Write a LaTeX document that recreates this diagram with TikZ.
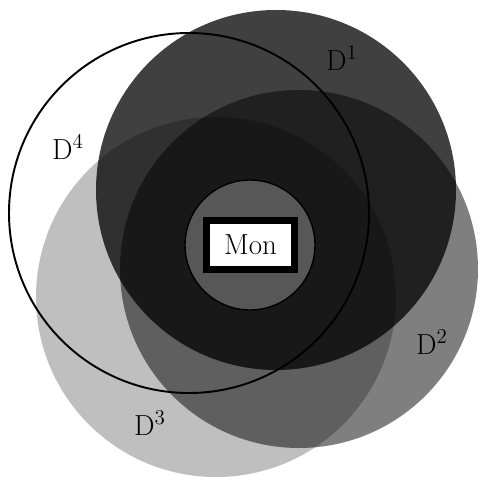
\documentclass[tikz,border=0pt]{standalone}
\usepackage{amsmath}
\usepackage{xcolor}
\usepackage{tikz}
\usetikzlibrary{positioning}
\definecolor{hubgrey}{HTML}{575757}
\tikzset{
  dshade/.style={fill=black, draw=none},
  dlabel/.style={font=\fontsize{16.5}{20}\selectfont, inner sep=0pt}
}

\begin{document}
\begin{tikzpicture}
      \useasboundingbox (0,0) rectangle (9.56,9.52);
      % the three shaded domains
      \fill[dshade, fill opacity=0.75] (5.52,5.72) circle (3.6);
      \fill[dshade, fill opacity=0.50] (5.98,4.14) circle (3.58);
      \fill[dshade, fill opacity=0.25] (4.32,3.58) circle (3.6);
      % the open domain
      \draw[line width=1.1pt] (3.78,5.26) circle (3.6);
      % centre
      \draw[fill=hubgrey, line width=0.8pt] (5.0,4.62) circle (1.3);
      \node[draw, line width=4pt, fill=white, minimum width=1.76cm, minimum height=0.98cm,
        inner sep=0pt, font=\fontsize{16.5}{20}\selectfont] (mon) at (5.01,4.62) {Mon};
      \node[dlabel] (d1lbl) at (6.84,8.36) {D$^1$};
      \node[dlabel] (d2lbl) at (8.64,2.68) {D$^2$};
      \node[dlabel] (d3lbl) at (3.00,1.06) {D$^3$};
      \node[dlabel] (d4lbl) at (1.36,6.58) {D$^4$};
    \end{tikzpicture}
\end{document}
